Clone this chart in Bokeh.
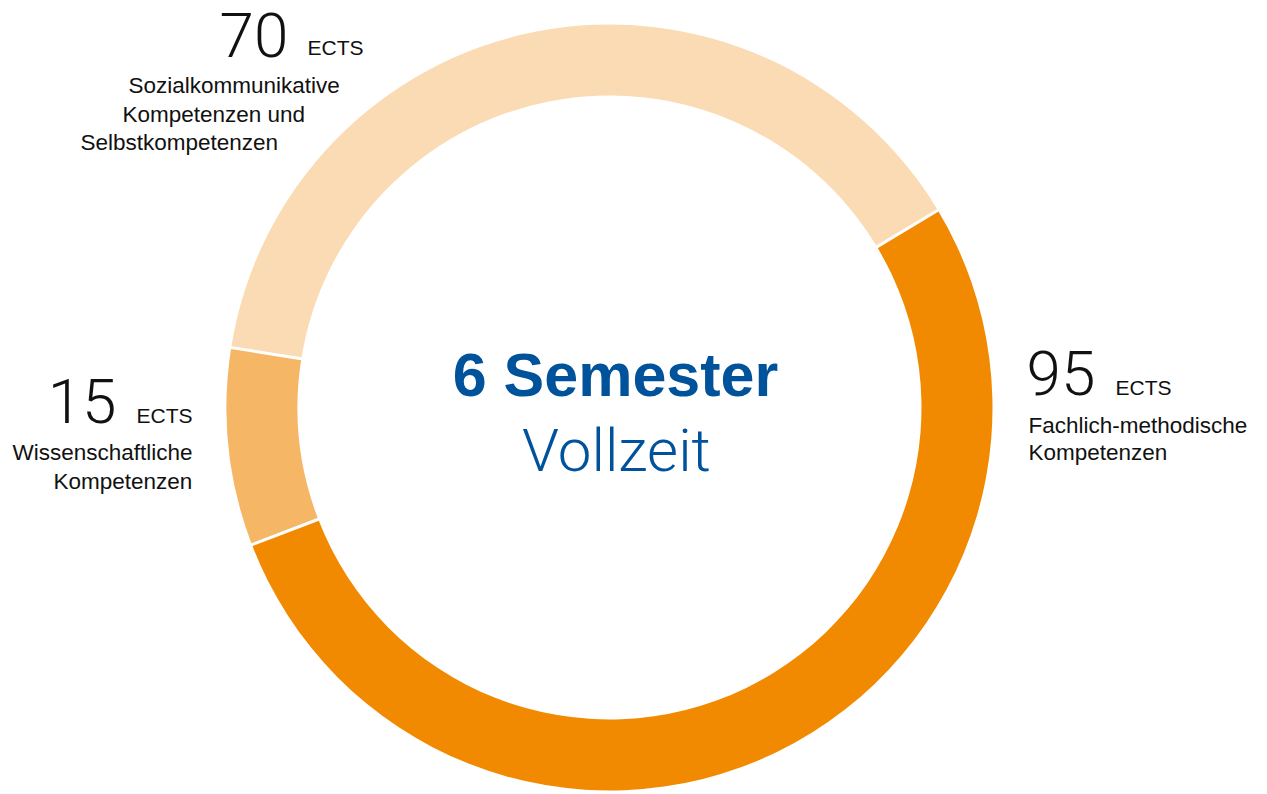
import math
from bokeh.plotting import figure
from bokeh.models import Range1d
from bokeh.embed import file_html
from bokeh.resources import INLINE
from bokeh.core.properties import value

# ---- data ----
categories = ["Fachlich-methodische Kompetenzen",
              "Wissenschaftliche Kompetenzen",
              "Sozialkommunikative Kompetenzen und Selbstkompetenzen"]
ects = [95, 15, 70]
unit = "ECTS"
label_lines = [["Fachlich-methodische", "Kompetenzen"],
               ["Wissenschaftliche", "Kompetenzen"],
               ["Sozialkommunikative", "Kompetenzen und", "Selbstkompetenzen"]]
center_title = "6 Semester"
center_sub = "Vollzeit"

# ---- styling ----
colors = ["#F18A00", "#F5B666", "#FADBB4"]
blue = "#00529B"
FONT = value("Liberation Sans")
LIGHT = value("Roboto Light")
K = 0.36  # baseline correction (em)

W, H = 1267, 794
def sy(s):  # screen y -> data y
    return 794 - s

def by(s, size):  # baseline in screen coords -> data y anchor
    return sy(s) + K * size

p = figure(width=W, height=H, x_range=Range1d(0, W), y_range=Range1d(794 - H, 794),
           output_backend="svg", toolbar_location=None, min_border=0,
           x_axis_type=None, y_axis_type=None)
p.grid.visible = False
p.outline_line_color = None
p.background_fill_color = "white"
p.border_fill_color = "white"

cx, cy = 609, sy(407)
R_OUT, R_IN = 383, 312
START = 31.0  # degrees, slices run clockwise

total = sum(ects)
cum = 0
starts, ends, bounds = [], [], []
for v in ects:
    a0 = START - cum * 360.0 / total
    a1 = a0 - v * 360.0 / total
    starts.append(math.radians(a1))
    ends.append(math.radians(a0))
    bounds.append(math.radians(a0))
    cum += v

p.annular_wedge(x=[cx] * len(ects), y=[cy] * len(ects), inner_radius=R_IN, outer_radius=R_OUT,
                start_angle=starts, end_angle=ends, direction="anticlock",
                fill_color=colors, line_color=None)

# white separators between slices
x0 = [cx + (R_IN - 3) * math.cos(a) for a in bounds]
y0 = [cy + (R_IN - 3) * math.sin(a) for a in bounds]
x1 = [cx + (R_OUT + 3) * math.cos(a) for a in bounds]
y1 = [cy + (R_OUT + 3) * math.sin(a) for a in bounds]
p.segment(x0=x0, y0=y0, x1=x1, y1=y1, line_color="white", line_width=3)

# label layout (screen coords)
layout = [
    dict(nx=1026, na="left", nb=395, ex=1115, eb=395, lx=[1028, 1028], lb=[433, 460]),
    dict(nx=116, na="right", nb=423, ex=136, eb=423, lx=[12, 53], lb=[460, 489]),
    dict(nx=219, na="left", nb=57, ex=307, eb=55, lx=[128, 122, 80], lb=[93, 122, 150]),
]

txt = "#111111"
NUM, UNIT, LAB = 62, 21, 22.5
for v, lines, L in zip(ects, label_lines, layout):
    p.text(x=[L["nx"]], y=[by(L["nb"], NUM)], text=[str(v)], text_font=LIGHT, text_font_size=f"{NUM}px",
           text_color=txt, text_align=L["na"], text_baseline="alphabetic")
    p.text(x=[L["ex"]], y=[by(L["eb"], UNIT)], text=[unit], text_font=FONT, text_font_size=f"{UNIT}px",
           text_color=txt, text_align="left", text_baseline="alphabetic")
    p.text(x=L["lx"], y=[by(b, LAB) for b in L["lb"]], text=lines, text_font=FONT,
           text_font_size=f"{LAB}px", text_color=txt, text_align="left", text_baseline="alphabetic")

p.text(x=[615], y=[by(396, 61)], text=[center_title], text_font=FONT, text_font_size="61px",
       text_font_style="bold", text_color=blue, text_align="center", text_baseline="alphabetic")
p.text(x=[616], y=[by(472, 60)], text=[center_sub], text_font=LIGHT, text_font_size="60px",
       text_color=blue, text_align="center", text_baseline="alphabetic")

open("out.html", "w").write(file_html(p, INLINE))
